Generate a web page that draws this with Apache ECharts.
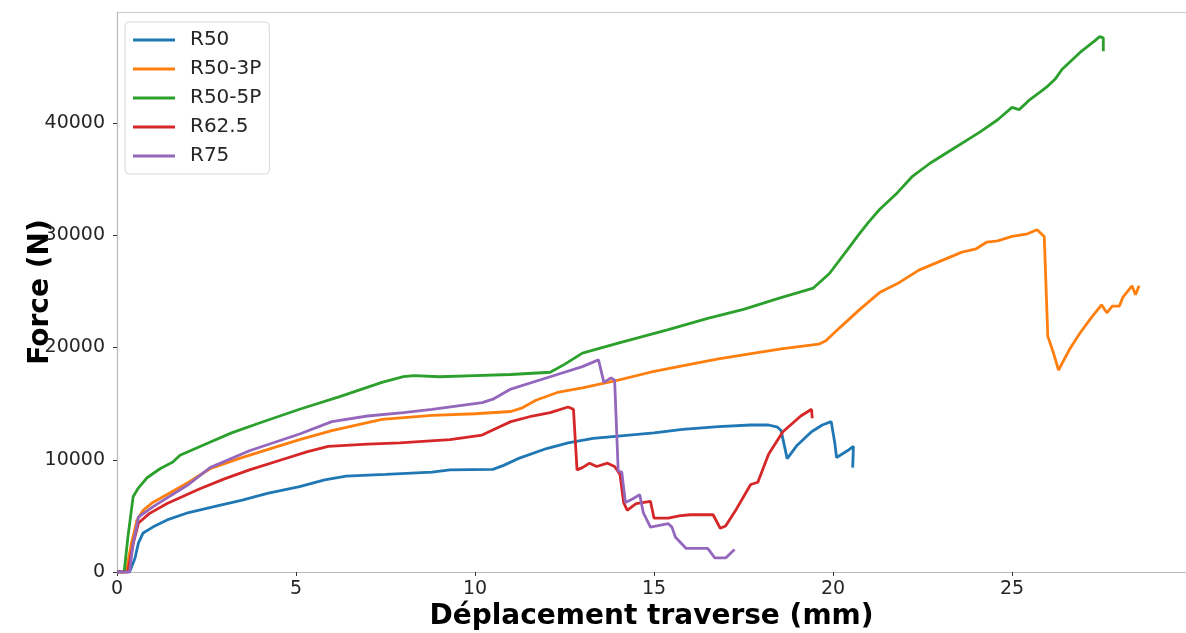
<!DOCTYPE html>
<html>
<head>
<meta charset="utf-8">
<script src="https://cdn.jsdelivr.net/npm/echarts@6/dist/echarts.min.js"></script>
<style>
    html, body {margin: 0; padding: 0; background: #fff;}
    #chart {width: 1186px; height: 633px;}
</style>
</head>
<body>
<div id="chart"></div>
<script>
// courbes force / deplacement [mm, N]
var r50 = [[0, 0], [0.35, 0], [0.5, 1200], [0.6, 2600], [0.73, 3480], [1.0, 4000], [1.4, 4640], [2.0, 5300],
    [2.8, 5900], [3.5, 6400], [4.2, 7000], [5.1, 7600], [5.8, 8200], [6.4, 8550], [7.5, 8700], [8.8, 8900],
    [9.3, 9100], [10.5, 9150], [10.8, 9500], [11.2, 10100], [12.0, 11000], [12.6, 11500], [13.3, 11900],
    [14.0, 12100], [15.0, 12400], [15.8, 12700], [16.8, 12950], [17.7, 13100], [18.2, 13100], [18.45, 12900],
    [18.55, 12600], [18.72, 10100], [19.0, 11300], [19.4, 12500], [19.7, 13100], [19.95, 13400], [20.05, 11500],
    [20.1, 10200], [20.2, 10400], [20.4, 10800], [20.57, 11200], [20.55, 9300]];
var r50_3p = [[0, 0], [0.25, 0], [0.4, 2500], [0.56, 4640], [0.73, 5500], [1.0, 6200], [1.4, 6900], [2.0, 8000],
    [2.6, 9200], [3.4, 10100], [4.2, 10900], [5.1, 11800], [6.0, 12600], [7.4, 13600], [8.8, 13950], [10.0, 14100],
    [11.0, 14300], [11.3, 14600], [11.7, 15300], [12.3, 16000], [13.0, 16400], [14.0, 17100], [14.9, 17800],
    [16.0, 18500], [16.8, 19000], [17.8, 19500], [18.6, 19900], [19.6, 20300], [19.8, 20600], [20.2, 21800],
    [20.75, 23400], [21.3, 24900], [21.8, 25700], [22.4, 26900], [23.0, 27700], [23.6, 28500], [24.0, 28800],
    [24.3, 29400], [24.6, 29500], [25.0, 29900], [25.4, 30100], [25.7, 30500], [25.9, 29900], [26.0, 21000],
    [26.15, 19600], [26.3, 18000], [26.6, 19800], [26.9, 21300], [27.2, 22600], [27.5, 23800], [27.65, 23100],
    [27.8, 23700], [28.0, 23700], [28.1, 24500], [28.35, 25500], [28.45, 24700], [28.55, 25500]];
var r50_5p = [[0, 0], [0.2, 0], [0.3, 3000], [0.45, 6700], [0.6, 7500], [0.84, 8400], [1.2, 9200], [1.56, 9800],
    [1.76, 10400], [2.4, 11300], [3.2, 12400], [4.0, 13300], [5.1, 14500], [6.2, 15600], [7.4, 16900], [8.0, 17400],
    [8.3, 17500], [9.0, 17400], [10.0, 17500], [11.0, 17600], [12.1, 17800], [12.5, 18500], [13.0, 19500],
    [14.0, 20400], [15.4, 21600], [16.5, 22600], [17.5, 23400], [18.5, 24400], [19.45, 25300], [19.9, 26600],
    [20.4, 28700], [20.75, 30200], [21.0, 31200], [21.3, 32300], [21.8, 33800], [22.2, 35200], [22.7, 36400],
    [23.2, 37400], [24.1, 39200], [24.6, 40300], [25.0, 41400], [25.2, 41200], [25.5, 42100], [25.8, 42800],
    [26.0, 43300], [26.2, 43900], [26.4, 44800], [26.9, 46300], [27.3, 47300], [27.45, 47700], [27.55, 47600],
    [27.55, 46400]];
var r62_5 = [[0, 0], [0.3, 0], [0.45, 2500], [0.6, 4370], [0.9, 5200], [1.4, 6100], [2.3, 7400], [3.0, 8300],
    [3.7, 9100], [4.6, 10000], [5.3, 10700], [5.9, 11200], [7.0, 11400], [7.9, 11500], [9.3, 11800], [10.2, 12200],
    [10.6, 12800], [11.0, 13400], [11.6, 13900], [12.1, 14200], [12.6, 14700], [12.75, 14500], [12.85, 9100],
    [13.0, 9300], [13.2, 9700], [13.4, 9400], [13.7, 9700], [13.9, 9400], [14.05, 8700], [14.15, 6200],
    [14.25, 5500], [14.5, 6100], [14.9, 6300], [15.0, 4800], [15.4, 4800], [15.7, 5000], [16.0, 5100],
    [16.65, 5100], [16.85, 3900], [17.0, 4100], [17.3, 5600], [17.7, 7800], [17.9, 8000], [18.2, 10500],
    [18.6, 12500], [19.1, 13900], [19.4, 14500], [19.42, 13700]];
var r75 = [[0, 0], [0.35, 0], [0.45, 2500], [0.6, 4900], [1.0, 5800], [1.4, 6600], [2.0, 7800], [2.6, 9300],
    [3.7, 10800], [5.1, 12300], [6.0, 13400], [7.0, 13900], [8.0, 14200], [8.8, 14500], [10.2, 15100],
    [10.5, 15400], [11.0, 16300], [12.1, 17400], [13.0, 18300], [13.45, 18900], [13.6, 16900], [13.8, 17300],
    [13.9, 17100], [14.0, 9000], [14.1, 8900], [14.2, 6200], [14.4, 6500], [14.6, 6900], [14.7, 5300],
    [14.9, 4000], [15.4, 4300], [15.5, 4000], [15.6, 3100], [15.9, 2100], [16.5, 2100], [16.7, 1250],
    [17.0, 1250], [17.25, 2000]];

var names = ['R50', 'R50-3P', 'R50-5P', 'R62.5', 'R75'];
var colors = ['#1f77b4', '#ff7f0e', '#2ca02c', '#d62728', '#9467bd'];
var xTicks = [0, 5, 10, 15, 20, 25];
var yTicks = [0, 10000, 20000, 30000, 40000];

var allData = [r50, r50_3p, r50_5p, r62_5, r75];
var series = [];
for (var i = 0; i < allData.length; i++) {
    series.push({
        name: names[i],
        type: 'line',
        data: allData[i],
        showSymbol: false,
        symbol: 'none',
        animation: false,
        lineStyle: {width: 2.8, color: colors[i]},
        itemStyle: {color: colors[i]}
    });
}

var font = 'DejaVu Sans';
var option = {
    animation: false,
    grid: {left: 117, right: 0, top: 12, bottom: 61, outerBoundsMode: 'none'},
    legend: {
        data: names,
        orient: 'vertical',
        left: 125,
        top: 22,
        icon: 'rect',
        itemWidth: 42,
        itemHeight: 3,
        itemGap: 9,
        padding: [8, 8, 8, 8],
        backgroundColor: '#fff',
        borderColor: '#d8d8d8',
        borderWidth: 1,
        borderRadius: 4,
        textStyle: {fontFamily: font, fontSize: 20, color: '#262626', padding: [0, 0, 0, 10]}
    },
    xAxis: [{
        type: 'value',
        min: 0,
        max: 29.86,
        name: 'Déplacement traverse (mm)',
        nameLocation: 'middle',
        nameGap: 31,
        nameMoveOverlap: false,
        nameTextStyle: {fontFamily: font, fontSize: 28, fontWeight: 'bold', color: '#000'},
        splitLine: {show: false},
        axisLine: {show: true, lineStyle: {color: '#b8b8b8', width: 1.2}},
        axisTick: {show: true, length: 4, customValues: xTicks, lineStyle: {color: '#333'}},
        axisLabel: {customValues: xTicks, margin: 8, fontFamily: font, fontSize: 19, color: '#262626'}
    }, {
        type: 'value',
        position: 'top',
        min: 0,
        max: 29.86,
        splitLine: {show: false},
        axisLine: {show: true, lineStyle: {color: '#cccccc', width: 1.2}},
        axisTick: {show: false},
        axisLabel: {show: false}
    }],
    yAxis: {
        type: 'value',
        min: 0,
        max: 49900,
        name: 'Force (N)',
        nameLocation: 'middle',
        nameGap: 62,
        nameMoveOverlap: false,
        nameTextStyle: {fontFamily: font, fontSize: 28, fontWeight: 'bold', color: '#000'},
        splitLine: {show: false},
        axisLine: {show: true, lineStyle: {color: '#b8b8b8', width: 1.2}},
        axisTick: {show: true, length: 4, customValues: yTicks, lineStyle: {color: '#333'}},
        axisLabel: {
            customValues: yTicks, margin: 12, fontFamily: font, fontSize: 19, color: '#262626',
            formatter: function (v) { return String(v); }
        }
    },
    series: series
};

var myChart = echarts.init(document.getElementById('chart'));
myChart.setOption(option, true);
</script>
</body>
</html>
